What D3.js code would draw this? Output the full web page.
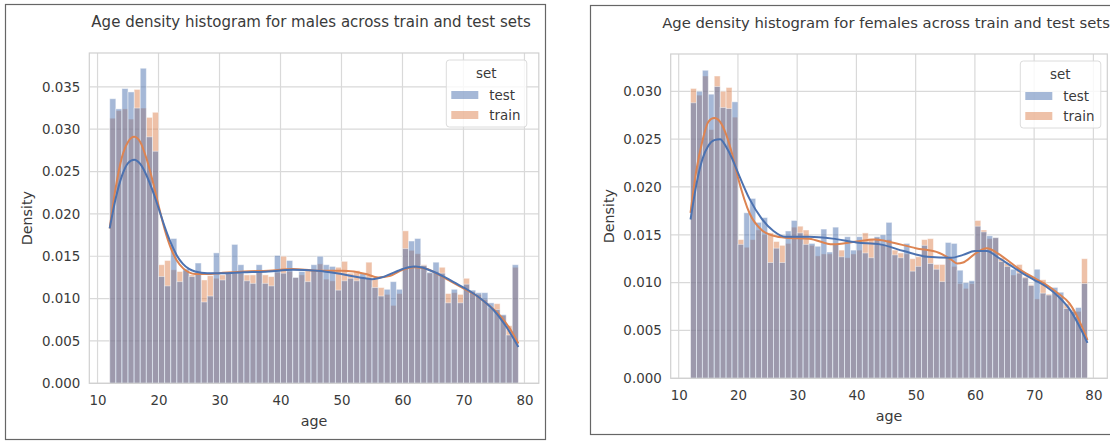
<!DOCTYPE html>
<html>
<head>
<meta charset="utf-8">
<script src="https://cdn.jsdelivr.net/npm/d3@7"></script>
<style>
  body { margin: 0; background: #fff; }
  svg text { font-family: "DejaVu Sans", sans-serif; fill: #3a3a3a; }
</style>
</head>
<body>
<svg id="chart" width="1110" height="443"></svg>
<script>
// Histogram bins: one-year bins, left edges 12 … 78 (last bin closes at 79)
const binLeft = d3.range(12, 79);
const binWidth = 1;

const xTicks = [10, 20, 30, 40, 50, 60, 70, 80];
const yTicksMale = [0, 0.005, 0.010, 0.015, 0.020, 0.025, 0.030, 0.035];
const yTicksFemale = [0, 0.005, 0.010, 0.015, 0.020, 0.025, 0.030];

const setNames = ["test", "train"];

// Male age densities per bin
const maleTest = [
  0.0336, 0.0324, 0.0348, 0.0344, 0.0325, 0.0372, 0.0291, 0.0274, 0.0126, 0.0115,
  0.0171, 0.0120, 0.0135, 0.0126, 0.0142, 0.0096, 0.0103, 0.0154, 0.0122, 0.0131,
  0.0164, 0.0140, 0.0121, 0.0118, 0.0140, 0.0118, 0.0115, 0.0151, 0.0130, 0.0145,
  0.0125, 0.0132, 0.0120, 0.0140, 0.0150, 0.0140, 0.0138, 0.0110, 0.0121, 0.0124,
  0.0121, 0.0130, 0.0124, 0.0113, 0.0103, 0.0111, 0.0120, 0.0111, 0.0159, 0.0168,
  0.0171, 0.0139, 0.0131, 0.0143, 0.0130, 0.0095, 0.0111, 0.0095, 0.0117, 0.0110,
  0.0107, 0.0107, 0.0095, 0.0087, 0.0081, 0.0057, 0.0140
];
const maleTrain = [
  0.0313, 0.0322, 0.0324, 0.0312, 0.0347, 0.0325, 0.0314, 0.0320, 0.0140, 0.0145,
  0.0134, 0.0132, 0.0133, 0.0128, 0.0131, 0.0122, 0.0127, 0.0124, 0.0128, 0.0130,
  0.0130, 0.0130, 0.0128, 0.0128, 0.0134, 0.0128, 0.0126, 0.0131, 0.0150, 0.0132,
  0.0125, 0.0128, 0.0133, 0.0134, 0.0141, 0.0123, 0.0121, 0.0137, 0.0144, 0.0130,
  0.0133, 0.0125, 0.0143, 0.0123, 0.0113, 0.0105, 0.0092, 0.0106, 0.0180, 0.0157,
  0.0153, 0.0140, 0.0130, 0.0132, 0.0137, 0.0106, 0.0107, 0.0105, 0.0124, 0.0108,
  0.0105, 0.0099, 0.0089, 0.0094, 0.0080, 0.0068, 0.0137
];

// Female age densities per bin
const femaleTest = [
  0.0288, 0.0300, 0.0322, 0.0297, 0.0305, 0.0283, 0.0282, 0.0289, 0.0140, 0.0173,
  0.0188, 0.0163, 0.0168, 0.0121, 0.0136, 0.0121, 0.0154, 0.0165, 0.0152, 0.0140,
  0.0141, 0.0138, 0.0156, 0.0132, 0.0158, 0.0127, 0.0148, 0.0134, 0.0148, 0.0131,
  0.0126, 0.0148, 0.0150, 0.0163, 0.0129, 0.0126, 0.0141, 0.0112, 0.0117, 0.0139,
  0.0120, 0.0114, 0.0101, 0.0142, 0.0141, 0.0113, 0.0100, 0.0102, 0.0159, 0.0153,
  0.0149, 0.0147, 0.0122, 0.0117, 0.0114, 0.0110, 0.0105, 0.0097, 0.0114, 0.0089,
  0.0087, 0.0095, 0.0090, 0.0073, 0.0070, 0.0074, 0.0099
];
const femaleTrain = [
  0.0303, 0.0296, 0.0316, 0.0260, 0.0316, 0.0300, 0.0304, 0.0273, 0.0145, 0.0137,
  0.0145, 0.0155, 0.0150, 0.0152, 0.0143, 0.0139, 0.0141, 0.0158, 0.0159, 0.0155,
  0.0139, 0.0128, 0.0130, 0.0130, 0.0140, 0.0134, 0.0126, 0.0130, 0.0134, 0.0152,
  0.0146, 0.0147, 0.0140, 0.0145, 0.0134, 0.0131, 0.0130, 0.0125, 0.0127, 0.0145,
  0.0146, 0.0119, 0.0119, 0.0126, 0.0117, 0.0099, 0.0094, 0.0099, 0.0165, 0.0155,
  0.0146, 0.0147, 0.0126, 0.0120, 0.0108, 0.0119, 0.0106, 0.0098, 0.0083, 0.0103,
  0.0088, 0.0089, 0.0085, 0.0078, 0.0072, 0.0070, 0.0125
];

// Kernel density curves, [age, density]
const maleTestKde = [
  [12, 0.0183], [13, 0.0219], [14, 0.0245], [15, 0.0260], [16, 0.0264], [17, 0.0259],
  [18, 0.0246], [19, 0.0228], [20, 0.0207], [21, 0.0185], [22, 0.0166], [23, 0.0151],
  [24, 0.0141], [25, 0.0135], [26, 0.0132], [28, 0.0130], [30, 0.0130], [34, 0.0131],
  [38, 0.0132], [42, 0.0134], [46, 0.0133], [50, 0.0129], [53, 0.0125], [55, 0.0123],
  [57, 0.0126], [59, 0.0132], [61, 0.0137], [62, 0.0138], [63, 0.0137], [65, 0.0132],
  [67, 0.0125], [69, 0.0117], [71, 0.0109], [73, 0.0099], [75, 0.0086], [77, 0.0067],
  [79, 0.0043]
];
const maleTrainKde = [
  [12, 0.0183], [13, 0.0232], [14, 0.0267], [15, 0.0285], [16, 0.0291], [17, 0.0285],
  [18, 0.0266], [19, 0.0240], [20, 0.0210], [21, 0.0182], [22, 0.0160], [23, 0.0145],
  [24, 0.0136], [25, 0.0131], [26, 0.0129], [28, 0.0129], [30, 0.0130], [34, 0.0132],
  [38, 0.0133], [42, 0.0135], [46, 0.0133], [50, 0.0133], [52, 0.0132], [54, 0.0129],
  [56, 0.0125], [58, 0.0127], [60, 0.0134], [62, 0.0137], [64, 0.0135], [66, 0.0128],
  [68, 0.0120], [70, 0.0112], [72, 0.0104], [74, 0.0093], [76, 0.0080], [78, 0.0060],
  [79, 0.0047]
];
const femaleTestKde = [
  [12, 0.0166], [13, 0.0203], [14, 0.0229], [15, 0.0243], [16, 0.0249], [17, 0.0250],
  [18, 0.0242], [19, 0.0230], [20, 0.0215], [22, 0.0187], [24, 0.0167], [26, 0.0154],
  [28, 0.0148], [32, 0.0148], [36, 0.0146], [40, 0.0142], [44, 0.0140], [48, 0.0133],
  [52, 0.0127], [56, 0.0126], [58, 0.0129], [60, 0.0133], [62, 0.0133], [64, 0.0126],
  [66, 0.0118], [68, 0.0110], [70, 0.0103], [72, 0.0096], [74, 0.0086], [76, 0.0072],
  [78, 0.0050], [79, 0.0037]
];
const femaleTrainKde = [
  [12, 0.0173], [13, 0.0218], [14, 0.0248], [15, 0.0268], [16, 0.0272], [17, 0.0268],
  [18, 0.0255], [19, 0.0235], [20, 0.0210], [22, 0.0172], [24, 0.0155], [26, 0.0149],
  [28, 0.0147], [32, 0.0146], [36, 0.0140], [40, 0.0143], [43, 0.0145], [46, 0.0142],
  [50, 0.0136], [54, 0.0131], [56, 0.0124], [57, 0.0120], [58, 0.0121], [60, 0.0130],
  [62, 0.0136], [64, 0.0130], [66, 0.0121], [68, 0.0112], [70, 0.0105], [72, 0.0098],
  [74, 0.0089], [76, 0.0078], [78, 0.0055], [79, 0.0040]
];

const colors = { test: "#4c72b0", train: "#dd8452" };

const panels = [
  {
    title: "Age density histogram for males across train and test sets",
    titleSize: 15, titleShift: -3,
    frame: { x: 5.5, y: 4.5, w: 540, h: 435 },
    plot: { left: 89.3, right: 538.8, top: 53, bottom: 383.3 },
    legendInset: 12,
    yMax: 0.0390, yTicks: yTicksMale,
    test: maleTest, train: maleTrain,
    testKde: maleTestKde, trainKde: maleTrainKde
  },
  {
    title: "Age density histogram for females across train and test sets",
    titleSize: 14.8, titleShift: -3,
    frame: { x: 590.5, y: 5.5, w: 540, h: 429 },
    plot: { left: 670.7, right: 1107.3, top: 54, bottom: 378.3 },
    legendInset: 6.5,
    yMax: 0.0339, yTicks: yTicksFemale,
    test: femaleTest, train: femaleTrain,
    testKde: femaleTestKde, trainKde: femaleTrainKde
  }
];

const svg = d3.select("#chart");

function drawPanel(p) {
  const g = svg.append("g");
  const { left, right, top, bottom } = p.plot;

  // outer box around the figure
  g.append("rect")
    .attr("x", p.frame.x).attr("y", p.frame.y)
    .attr("width", p.frame.w).attr("height", p.frame.h)
    .attr("fill", "none").attr("stroke", "#666").attr("stroke-width", 1.2);

  const x = d3.scaleLinear().domain([8.65, 82.35]).range([left, right]);
  const y = d3.scaleLinear().domain([0, p.yMax]).range([bottom, top]);

  // grid
  g.append("g").selectAll("line").data(xTicks).join("line")
    .attr("x1", d => x(d)).attr("x2", d => x(d))
    .attr("y1", top).attr("y2", bottom)
    .attr("stroke", "#d9d9d9").attr("stroke-width", 1.2);
  g.append("g").selectAll("line").data(p.yTicks).join("line")
    .attr("x1", left).attr("x2", right)
    .attr("y1", d => y(d)).attr("y2", d => y(d))
    .attr("stroke", "#d9d9d9").attr("stroke-width", 1.2);

  // histogram bars: train layer first, test layer on top
  ["train", "test"].forEach(key => {
    const vals = p[key];
    g.append("g").selectAll("rect").data(binLeft).join("rect")
      .attr("x", (d) => x(d))
      .attr("width", (d) => x(d + binWidth) - x(d))
      .attr("y", (d, i) => y(vals[i]))
      .attr("height", (d, i) => y(0) - y(vals[i]))
      .attr("fill", colors[key]).attr("fill-opacity", 0.5)
      .attr("stroke", "#fff").attr("stroke-opacity", 0.5).attr("stroke-width", 0.9);
  });

  // density curves
  const line = d3.line().x(d => x(d[0])).y(d => y(d[1])).curve(d3.curveMonotoneX);
  [["trainKde", "train"], ["testKde", "test"]].forEach(([k, c]) => {
    g.append("path").datum(p[k]).attr("d", line)
      .attr("fill", "none").attr("stroke", colors[c]).attr("stroke-width", 2);
  });

  // axes frame
  g.append("rect")
    .attr("x", left).attr("y", top).attr("width", right - left).attr("height", bottom - top)
    .attr("fill", "none").attr("stroke", "#d0d0d0").attr("stroke-width", 1.2);

  // tick labels via d3 axes (no tick marks, no domain line)
  const xAxis = d3.axisBottom(x).tickValues(xTicks).tickSize(0).tickPadding(12);
  g.append("g").attr("transform", `translate(0,${bottom})`).call(xAxis)
    .call(s => s.select(".domain").remove())
    .call(s => s.selectAll("text").attr("font-size", 13.4).attr("font-family", null));
  const yAxis = d3.axisLeft(y).tickValues(p.yTicks).tickFormat(d3.format(".3f")).tickSize(0).tickPadding(9);
  g.append("g").attr("transform", `translate(${left},0)`).call(yAxis)
    .call(s => s.select(".domain").remove())
    .call(s => s.selectAll("text").attr("font-size", 13.4).attr("font-family", null));

  // titles and axis labels
  g.append("text").attr("x", (left + right) / 2 + p.titleShift).attr("y", top - 26)
    .attr("text-anchor", "middle").attr("font-size", p.titleSize).text(p.title);
  g.append("text").attr("x", (left + right) / 2).attr("y", bottom + 43)
    .attr("text-anchor", "middle").attr("font-size", 14.3).text("age");
  g.append("text")
    .attr("transform", `translate(${left - 57},${(top + bottom) / 2}) rotate(-90)`)
    .attr("text-anchor", "middle").attr("font-size", 14.3).text("Density");

  // legend
  const lg = g.append("g").attr("transform", `translate(${right - p.legendInset - 80.5},${top + 7})`);
  lg.append("rect").attr("width", 80.5).attr("height", 67).attr("rx", 3)
    .attr("fill", "#fff").attr("fill-opacity", 0.8).attr("stroke", "#dcdcdc");
  lg.append("text").attr("x", 40).attr("y", 18).attr("text-anchor", "middle")
    .attr("font-size", 13.4).text("set");
  setNames.forEach((s, i) => {
    lg.append("rect").attr("x", 5).attr("y", 31 + i * 20).attr("width", 27).attr("height", 8)
      .attr("fill", colors[s]).attr("fill-opacity", 0.5);
    lg.append("text").attr("x", 43).attr("y", 39.5 + i * 20)
      .attr("font-size", 13.4).text(s);
  });
}

panels.forEach(drawPanel);
</script>
</body>
</html>
